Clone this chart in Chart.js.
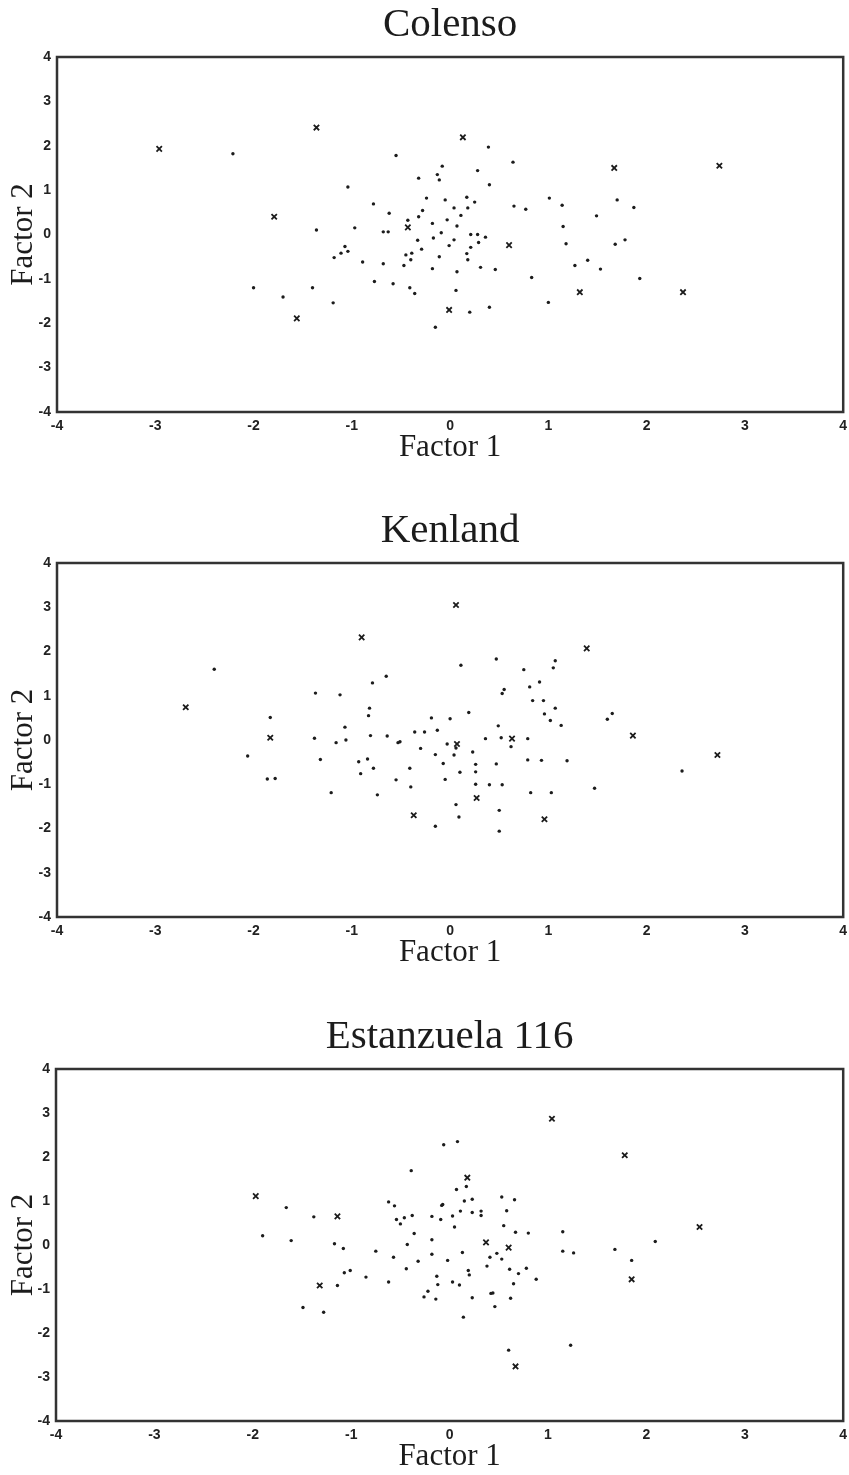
<!DOCTYPE html>
<html>
<head>
<meta charset="utf-8">
<title>Factor 1 / Factor 2 scores</title>
<script src="https://cdn.jsdelivr.net/npm/chart.js@4.4.1/dist/chart.umd.min.js"></script>
<style>
  html, body { margin: 0; padding: 0; background: #fff; overflow: hidden; }
  .panel { position: absolute; left: 0; width: 849px; }
</style>
</head>
<body>
<div class="panel" style="top:0px"><canvas id="colensoChart" width="849" height="470"></canvas></div>
<div class="panel" style="top:506px"><canvas id="kenlandChart" width="849" height="469"></canvas></div>
<div class="panel" style="top:1012px"><canvas id="estanzuelaChart" width="849" height="467"></canvas></div>
<script>
'use strict';

// axis range and ticks shared by the three plots
var axisTicks = [-4, -3, -2, -1, 0, 1, 2, 3, 4];
var titles = ['Colenso', 'Kenland', 'Estanzuela 116'];

// Colenso: [factor 1, factor 2]
var colensoDots = [
  [-2.21, 1.82], [-2.00, -1.20], [-1.70, -1.41], [0.39, 1.97], [-0.55, 1.78], [0.64, 1.63],
  [-0.08, 1.54], [0.28, 1.44], [-0.32, 1.27], [-0.13, 1.35], [-0.11, 1.23], [-1.04, 1.07],
  [0.40, 1.12], [-0.24, 0.82], [-0.05, 0.78], [0.17, 0.84], [0.25, 0.73], [0.04, 0.60],
  [0.18, 0.60], [-0.78, 0.69], [-0.62, 0.48], [-0.28, 0.54], [-0.32, 0.40], [0.11, 0.43],
  [-0.43, 0.32], [-0.03, 0.33], [-0.18, 0.25], [0.07, 0.19], [-0.97, 0.15], [-1.36, 0.10],
  [-0.68, 0.06], [-0.63, 0.06], [-0.09, 0.04], [0.21, 0.00], [0.28, 0.00], [0.36, -0.06],
  [-0.17, -0.08], [-0.33, -0.13], [0.04, -0.12], [0.29, -0.18], [-0.01, -0.25], [0.21, -0.29],
  [-0.29, -0.33], [-1.07, -0.27], [-1.11, -0.42], [-1.04, -0.38], [-0.39, -0.42], [-0.45, -0.46],
  [0.17, -0.43], [-0.11, -0.50], [-1.18, -0.52], [-0.40, -0.57], [0.18, -0.57], [-0.89, -0.62],
  [-0.68, -0.66], [-0.47, -0.70], [0.31, -0.74], [-0.18, -0.77], [0.46, -0.79], [0.07, -0.84],
  [-0.77, -1.06], [-0.58, -1.11], [-1.40, -1.20], [-0.41, -1.20], [-0.36, -1.33], [0.06, -1.26],
  [-1.19, -1.54], [0.20, -1.75], [0.40, -1.64], [-0.15, -2.09], [0.83, -0.97], [1.01, 0.82],
  [0.65, 0.64], [0.77, 0.57], [1.14, 0.66], [1.15, 0.18], [1.18, -0.21], [1.27, -0.70],
  [1.00, -1.53], [1.70, 0.78], [1.87, 0.61], [1.49, 0.42], [1.78, -0.12], [1.68, -0.22],
  [1.40, -0.58], [1.53, -0.78], [1.93, -0.99]
];
var colensoCrosses = [
  [-2.96, 1.93], [-1.79, 0.40], [-1.56, -1.89], [-1.36, 2.41], [0.13, 2.19], [-0.43, 0.16],
  [0.60, -0.24], [-0.01, -1.70], [1.32, -1.30], [1.67, 1.50], [2.74, 1.55], [2.37, -1.30]
];

// Kenland
var kenlandDots = [
  [-2.40, 1.60], [-1.83, 0.51], [-2.06, -0.36], [-1.86, -0.88], [-1.78, -0.87], [0.11, 1.69],
  [0.47, 1.83], [0.75, 1.59], [1.07, 1.79], [1.05, 1.63], [0.91, 1.31], [0.81, 1.20],
  [0.55, 1.14], [0.53, 1.05], [-0.65, 1.44], [-0.79, 1.29], [-1.37, 1.06], [-1.12, 1.02],
  [0.84, 0.89], [0.95, 0.89], [-0.82, 0.72], [-0.83, 0.55], [1.07, 0.72], [0.19, 0.62],
  [0.96, 0.59], [1.02, 0.44], [1.13, 0.33], [-0.19, 0.50], [0.00, 0.48], [0.49, 0.32],
  [-1.07, 0.29], [-0.13, 0.22], [-0.36, 0.18], [-0.26, 0.18], [-1.38, 0.04], [-0.81, 0.10],
  [-0.64, 0.09], [-1.16, -0.06], [-1.06, 0.00], [-0.53, -0.06], [-0.51, -0.04], [-0.03, -0.09],
  [0.06, -0.18], [0.36, 0.03], [0.52, 0.05], [0.62, -0.15], [0.79, 0.03], [-0.30, -0.19],
  [0.23, -0.27], [-0.15, -0.33], [0.04, -0.34], [-1.32, -0.44], [-0.93, -0.49], [-0.84, -0.43],
  [-0.78, -0.64], [-0.91, -0.76], [0.79, -0.45], [0.93, -0.46], [1.19, -0.47], [-0.07, -0.53],
  [0.26, -0.55], [0.47, -0.54], [-0.41, -0.64], [0.26, -0.72], [0.10, -0.73], [-0.55, -0.90],
  [-0.05, -0.89], [-0.40, -1.06], [0.26, -1.00], [0.40, -1.01], [0.53, -1.01], [-1.21, -1.19],
  [-0.74, -1.24], [0.82, -1.19], [1.03, -1.19], [0.06, -1.46], [0.09, -1.74], [-0.15, -1.95],
  [0.50, -1.59], [0.50, -2.06], [1.60, 0.47], [1.65, 0.60], [2.36, -0.70], [1.47, -1.09]
];
var kenlandCrosses = [
  [-2.69, 0.74], [-1.83, 0.05], [0.06, 3.05], [-0.90, 2.32], [0.07, -0.09], [0.63, 0.03],
  [0.27, -1.31], [-0.37, -1.70], [0.96, -1.79], [1.39, 2.07], [1.86, 0.10], [2.72, -0.34]
];

// Estanzuela 116
var estanzuelaDots = [
  [-1.66, 0.85], [-1.90, 0.21], [-1.61, 0.10], [-0.06, 2.28], [0.08, 2.35], [-0.39, 1.69],
  [0.07, 1.26], [0.17, 1.33], [-1.38, 0.64], [-0.62, 0.98], [-0.56, 0.89], [-0.08, 0.90],
  [-0.07, 0.92], [0.15, 1.00], [0.23, 1.04], [0.53, 1.09], [0.66, 1.03], [-0.54, 0.58],
  [-0.50, 0.48], [-0.46, 0.62], [-0.38, 0.67], [-0.18, 0.65], [-0.09, 0.58], [0.03, 0.66],
  [0.11, 0.77], [0.23, 0.74], [0.32, 0.77], [0.32, 0.67], [0.58, 0.78], [0.05, 0.41],
  [0.55, 0.44], [0.67, 0.29], [0.80, 0.27], [1.15, 0.30], [-0.36, 0.26], [-0.18, 0.12],
  [-1.17, 0.03], [-1.08, -0.08], [-0.43, 0.01], [-0.75, -0.14], [0.13, -0.17], [-0.18, -0.21],
  [1.15, -0.14], [1.26, -0.18], [-0.57, -0.28], [0.41, -0.28], [0.48, -0.19], [0.53, -0.32],
  [-0.02, -0.35], [-0.32, -0.37], [0.38, -0.48], [0.61, -0.55], [0.70, -0.65], [0.78, -0.53],
  [0.88, -0.78], [-1.07, -0.63], [-1.01, -0.58], [-0.44, -0.54], [0.19, -0.58], [0.20, -0.68],
  [-0.85, -0.73], [-0.62, -0.84], [-0.13, -0.71], [-0.12, -0.90], [0.03, -0.84], [0.10, -0.91],
  [0.65, -0.88], [-1.14, -0.92], [-0.22, -1.05], [-0.26, -1.18], [-0.14, -1.23], [0.42, -1.10],
  [0.44, -1.09], [0.23, -1.20], [0.62, -1.21], [0.46, -1.40], [-1.49, -1.42], [-1.28, -1.53],
  [0.14, -1.64], [0.60, -2.39], [1.23, -2.28], [1.68, -0.10], [2.09, 0.08], [1.85, -0.35]
];
var estanzuelaCrosses = [
  [-1.97, 1.11], [1.04, 2.87], [0.18, 1.53], [-1.14, 0.65], [0.37, 0.06], [0.60, -0.06],
  [-1.32, -0.92], [0.67, -2.76], [1.78, 2.04], [2.54, 0.41], [1.85, -0.78]
];

var ink = '#1c1c1c';
var serif = "'Liberation Serif', 'Times New Roman', serif";
var sans = "'Liberation Sans', Arial, sans-serif";

// plain box round the plot area
var framePlugin = {
  id: 'frame',
  beforeDatasetsDraw: function (chart) {
    var a = chart.chartArea, c = chart.ctx;
    c.save();
    c.strokeStyle = '#333';
    c.lineWidth = 2.5;
    c.strokeRect(a.left, a.top, a.right - a.left, a.bottom - a.top);
    c.restore();
  }
};

function toPoints(list) {
  return list.map(function (p) { return { x: p[0], y: p[1] }; });
}

function tickOptions() {
  return {
    stepSize: 1,
    autoSkip: false,
    maxRotation: 0,
    color: '#222',
    font: { family: sans, size: 14, weight: 'bold' },
    callback: function (v) { return axisTicks.indexOf(v) >= 0 ? String(v) : ''; }
  };
}

function makeChart(id, title, dots, crosses, leftWidth, rightPad) {
  var ctx = document.getElementById(id).getContext('2d');
  return new Chart(ctx, {
    type: 'scatter',
    data: {
      datasets: [
        {
          label: 'dots',
          data: toPoints(dots),
          pointStyle: 'circle',
          pointRadius: 1.7,
          backgroundColor: ink,
          borderWidth: 0
        },
        {
          label: 'crosses',
          data: toPoints(crosses),
          pointStyle: 'crossRot',
          pointRadius: 3.8,
          borderColor: ink,
          borderWidth: 1.8
        }
      ]
    },
    options: {
      responsive: false,
      animation: false,
      events: [],
      layout: { padding: { left: 0, right: rightPad, top: 0, bottom: 0 } },
      plugins: {
        legend: { display: false },
        tooltip: { enabled: false },
        title: {
          display: true,
          fullSize: false,  // centre over the plot box, not the canvas
          text: title,
          color: ink,
          font: { family: serif, size: 41, weight: 'normal', lineHeight: 1 },
          padding: { top: 5, bottom: 11 }
        }
      },
      scales: {
        x: {
          type: 'linear',
          min: axisTicks[0],
          max: axisTicks[axisTicks.length - 1],
          grid: { display: false, drawTicks: false },
          border: { display: false },
          ticks: Object.assign(tickOptions(), { padding: 6 }),
          title: {
            display: true,
            text: 'Factor 1',
            color: ink,
            font: { family: serif, size: 31, weight: 'normal', lineHeight: 1 },
            padding: { top: 0, bottom: 6.5 }
          },
          afterFit: function (s) {
            s.height = 58;
            s.paddingLeft = 0;
            s.paddingRight = 0;
          }
        },
        y: {
          type: 'linear',
          min: axisTicks[0],
          max: axisTicks[axisTicks.length - 1],
          grid: { display: false, drawTicks: false },
          border: { display: false },
          ticks: Object.assign(tickOptions(), { padding: 6 }),
          title: {
            display: true,
            text: 'Factor 2',
            color: ink,
            font: { family: serif, size: 31, weight: 'normal', lineHeight: 1 },
            padding: { top: 8, bottom: 0 }
          },
          afterFit: function (s) {
            s.width = leftWidth;
            s.paddingTop = 0;
            s.paddingBottom = 0;
          }
        }
      }
    },
    plugins: [framePlugin]
  });
}

makeChart('colensoChart', titles[0], colensoDots, colensoCrosses, 57, 3);
makeChart('kenlandChart', titles[1], kenlandDots, kenlandCrosses, 57, 4);
makeChart('estanzuelaChart', titles[2], estanzuelaDots, estanzuelaCrosses, 56, 5);
</script>
</body>
</html>
